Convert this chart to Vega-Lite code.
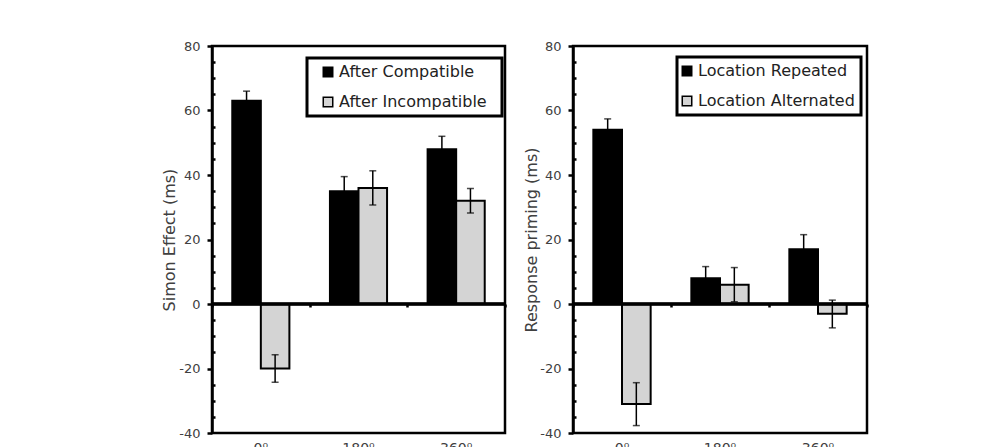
{
  "$schema": "https://vega.github.io/schema/vega-lite/v6.json",
  "padding": {"left": 160, "top": 38, "right": 0, "bottom": 0},
  "background": "white",
  "config": {
    "font": "DejaVu Sans",
    "view": {"stroke": "black", "strokeWidth": 2.5},
    "axis": {"labelColor": "#404040", "titleColor": "#404040", "titleFontWeight": "normal", "grid": false, "labelFontSize": 13, "titleFontSize": 16},
    "legend": {"strokeColor": "black", "strokeWidth": 3}
  },
  "datasets": {
    "simon": [
      {"angle": "0⁰", "cond": "After Compatible", "value": 63, "lo": 60, "hi": 66},
      {"angle": "0⁰", "cond": "After Incompatible", "value": -20, "lo": -24.3, "hi": -15.7},
      {"angle": "180⁰", "cond": "After Compatible", "value": 35, "lo": 30.5, "hi": 39.5},
      {"angle": "180⁰", "cond": "After Incompatible", "value": 36, "lo": 30.7, "hi": 41.3},
      {"angle": "360⁰", "cond": "After Compatible", "value": 48, "lo": 44, "hi": 52},
      {"angle": "360⁰", "cond": "After Incompatible", "value": 32, "lo": 28.2, "hi": 35.8}
    ],
    "priming": [
      {"angle": "0⁰", "cond": "Location Repeated", "value": 54, "lo": 50.6, "hi": 57.4},
      {"angle": "0⁰", "cond": "Location Alternated", "value": -31, "lo": -37.7, "hi": -24.4},
      {"angle": "180⁰", "cond": "Location Repeated", "value": 8, "lo": 4.4, "hi": 11.6},
      {"angle": "180⁰", "cond": "Location Alternated", "value": 6, "lo": 0.7, "hi": 11.3},
      {"angle": "360⁰", "cond": "Location Repeated", "value": 17, "lo": 12.5, "hi": 21.5},
      {"angle": "360⁰", "cond": "Location Alternated", "value": -3, "lo": -7.4, "hi": 1.2}
    ]
  },
  "resolve": {"scale": {"fill": "independent", "y": "independent", "x": "independent", "xOffset": "independent"}, "legend": {"fill": "independent"}},
  "spacing": 14,
  "hconcat": [
    {
      "width": 293,
      "height": 387,
      "data": {"name": "simon"},
      "resolve": {"axis": {"x": "independent", "y": "independent"}},
      "layer": [
        {
          "mark": {"type": "bar", "stroke": "black", "strokeWidth": 2},
          "encoding": {
            "x": {"field": "angle", "type": "nominal", "sort": ["0⁰", "180⁰", "360⁰"], "scale": {"paddingInner": 0, "paddingOuter": 0},
              "axis": {"orient": "bottom", "title": null, "labelAngle": 0, "ticks": false, "domain": false, "labelPadding": 8, "labelFontSize": 14}},
            "xOffset": {"field": "cond", "type": "nominal", "sort": ["After Compatible", "After Incompatible"], "scale": {"paddingInner": 0, "paddingOuter": 0.71}},
            "y": {"field": "value", "type": "quantitative", "scale": {"domain": [-40, 80], "nice": false, "zero": false},
              "axis": {"orient": "left", "values": [-40, -20, 0, 20, 40, 60, 80], "labelExpr": "'' + datum.value", "title": "Simon Effect (ms)", "tickSize": 5, "tickWidth": 2.5, "tickColor": "black", "domainColor": "black", "domainWidth": 2.5, "labelPadding": 7, "titlePadding": 1}},
            "fill": {"field": "cond", "type": "nominal", "scale": {"domain": ["After Compatible", "After Incompatible"], "range": ["black", "#d4d4d4"]},
              "legend": {"orient": "none", "legendX": 95, "legendY": 12, "title": " ", "titleOrient": "right", "titlePadding": 9, "titleFontSize": 10, "direction": "vertical", "padding": 6, "fillColor": "white", "symbolType": "square", "symbolSize": 90, "symbolStrokeColor": "black", "symbolStrokeWidth": 1.5, "symbolOffset": 7, "labelOffset": 3, "labelFontSize": 16, "labelColor": "#222", "rowPadding": 14}}
          }
        },
        {
          "mark": {"type": "rule", "color": "black", "strokeWidth": 2.5},
          "encoding": {"y": {"datum": 0, "type": "quantitative", "axis": null}}
        },
        {
          "mark": {"type": "rule", "color": "black", "strokeWidth": 1.5},
          "encoding": {
            "x": {"field": "angle", "type": "nominal", "sort": ["0⁰", "180⁰", "360⁰"],
              "axis": {"orient": "bottom", "offset": -129, "tickBand": "extent", "tickSize": 3, "tickWidth": 2.5, "tickColor": "black", "labels": false, "domain": false, "title": null}},
            "xOffset": {"field": "cond", "type": "nominal", "sort": ["After Compatible", "After Incompatible"]},
            "y": {"field": "lo", "type": "quantitative",
              "axis": {"orient": "left", "values": [-35, -30, -25, -15, -10, -5, 5, 10, 15, 25, 30, 35, 45, 50, 55, 65, 70, 75], "tickSize": -3, "tickWidth": 2.5, "tickColor": "black", "labels": false, "domain": false, "title": null}},
            "y2": {"field": "hi"}
          }
        },
        {
          "mark": {"type": "tick", "color": "black", "thickness": 1.5, "size": 7, "orient": "horizontal"},
          "encoding": {
            "x": {"field": "angle", "type": "nominal", "sort": ["0⁰", "180⁰", "360⁰"], "axis": null},
            "xOffset": {"field": "cond", "type": "nominal", "sort": ["After Compatible", "After Incompatible"]},
            "y": {"field": "hi", "type": "quantitative", "axis": null}
          }
        },
        {
          "mark": {"type": "tick", "color": "black", "thickness": 1.5, "size": 7, "orient": "horizontal"},
          "encoding": {
            "x": {"field": "angle", "type": "nominal", "sort": ["0⁰", "180⁰", "360⁰"], "axis": null},
            "xOffset": {"field": "cond", "type": "nominal", "sort": ["After Compatible", "After Incompatible"]},
            "y": {"field": "lo", "type": "quantitative", "axis": null}
          }
        }
      ]
    },
    {
      "width": 294,
      "height": 387,
      "data": {"name": "priming"},
      "resolve": {"axis": {"x": "independent", "y": "independent"}},
      "layer": [
        {
          "mark": {"type": "bar", "stroke": "black", "strokeWidth": 2},
          "encoding": {
            "x": {"field": "angle", "type": "nominal", "sort": ["0⁰", "180⁰", "360⁰"], "scale": {"paddingInner": 0, "paddingOuter": 0},
              "axis": {"orient": "bottom", "title": null, "labelAngle": 0, "ticks": false, "domain": false, "labelPadding": 8, "labelFontSize": 14}},
            "xOffset": {"field": "cond", "type": "nominal", "sort": ["Location Repeated", "Location Alternated"], "scale": {"paddingInner": 0, "paddingOuter": 0.71}},
            "y": {"field": "value", "type": "quantitative", "scale": {"domain": [-40, 80], "nice": false, "zero": false},
              "axis": {"orient": "left", "values": [-40, -20, 0, 20, 40, 60, 80], "labelExpr": "'' + datum.value", "title": "Response priming (ms)", "tickSize": 5, "tickWidth": 2.5, "tickColor": "black", "domainColor": "black", "domainWidth": 2.5, "labelPadding": 7, "titlePadding": 0}},
            "fill": {"field": "cond", "type": "nominal", "scale": {"domain": ["Location Repeated", "Location Alternated"], "range": ["black", "#d4d4d4"]},
              "legend": {"orient": "none", "legendX": 104, "legendY": 11, "title": null, "direction": "vertical", "padding": 6, "fillColor": "white", "symbolType": "square", "symbolSize": 90, "symbolStrokeColor": "black", "symbolStrokeWidth": 1.5, "symbolOffset": -4, "labelOffset": 3, "labelFontSize": 16, "labelColor": "#222", "rowPadding": 14}}
          }
        },
        {
          "mark": {"type": "rule", "color": "black", "strokeWidth": 2.5},
          "encoding": {"y": {"datum": 0, "type": "quantitative", "axis": null}}
        },
        {
          "mark": {"type": "rule", "color": "black", "strokeWidth": 1.5},
          "encoding": {
            "x": {"field": "angle", "type": "nominal", "sort": ["0⁰", "180⁰", "360⁰"],
              "axis": {"orient": "bottom", "offset": -129, "tickBand": "extent", "tickSize": 3, "tickWidth": 2.5, "tickColor": "black", "labels": false, "domain": false, "title": null}},
            "xOffset": {"field": "cond", "type": "nominal", "sort": ["Location Repeated", "Location Alternated"]},
            "y": {"field": "lo", "type": "quantitative",
              "axis": {"orient": "left", "values": [-35, -30, -25, -15, -10, -5, 5, 10, 15, 25, 30, 35, 45, 50, 55, 65, 70, 75], "tickSize": -3, "tickWidth": 2.5, "tickColor": "black", "labels": false, "domain": false, "title": null}},
            "y2": {"field": "hi"}
          }
        },
        {
          "mark": {"type": "tick", "color": "black", "thickness": 1.5, "size": 7, "orient": "horizontal"},
          "encoding": {
            "x": {"field": "angle", "type": "nominal", "sort": ["0⁰", "180⁰", "360⁰"], "axis": null},
            "xOffset": {"field": "cond", "type": "nominal", "sort": ["Location Repeated", "Location Alternated"]},
            "y": {"field": "hi", "type": "quantitative", "axis": null}
          }
        },
        {
          "mark": {"type": "tick", "color": "black", "thickness": 1.5, "size": 7, "orient": "horizontal"},
          "encoding": {
            "x": {"field": "angle", "type": "nominal", "sort": ["0⁰", "180⁰", "360⁰"], "axis": null},
            "xOffset": {"field": "cond", "type": "nominal", "sort": ["Location Repeated", "Location Alternated"]},
            "y": {"field": "lo", "type": "quantitative", "axis": null}
          }
        }
      ]
    }
  ]
}
